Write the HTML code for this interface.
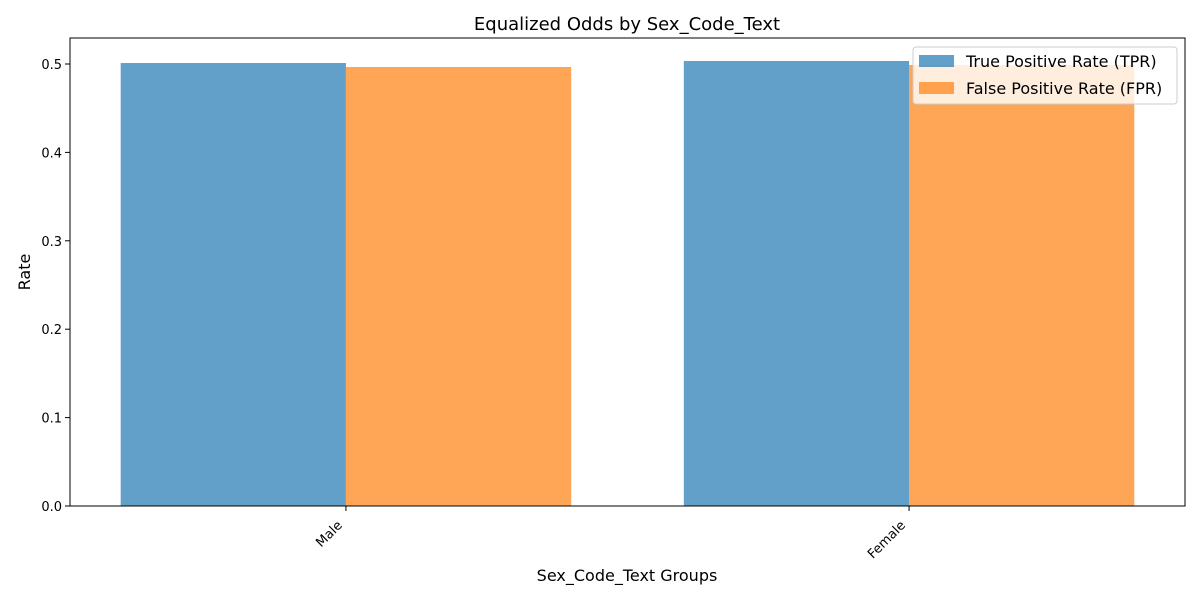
<!DOCTYPE html>
<html><head><meta charset="utf-8"><style>
body{margin:0;background:#fff;font-family:"Liberation Sans","DejaVu Sans",sans-serif}
</style></head><body>
<svg width="1200" height="600" xmlns="http://www.w3.org/2000/svg" font-family="DejaVu Sans, Liberation Sans, sans-serif">
<g id="bars"></g>
<g id="axes"></g>
<text x="627" y="30" font-size="18" text-anchor="middle">Equalized Odds by Sex_Code_Text</text>
<text x="627" y="581" font-size="16" text-anchor="middle">Sex_Code_Text Groups</text>
<text transform="translate(30,272) rotate(-90)" font-size="16" text-anchor="middle">Rate</text>
<g>
<rect x="913" y="47" width="264" height="57" rx="3" fill="#fff" fill-opacity="0.8" stroke="#ccc"/>
<rect x="919" y="55" width="35" height="12" fill="#1f77b4" fill-opacity="0.7"/>
<text x="966" y="67" font-size="16">True Positive Rate (TPR)</text>
<rect x="919" y="82" width="35" height="12" fill="#ff7f0e" fill-opacity="0.7"/>
<text x="966" y="94" font-size="16">False Positive Rate (FPR)</text>
</g>
</svg>
<script>
const categories = ["Male", "Female"];
const tprValues = [0.5011, 0.5034];
const fprValues = [0.4966, 0.4989];
const yTicks = [0.0, 0.1, 0.2, 0.3, 0.4, 0.5];
const NS = "http://www.w3.org/2000/svg";
const L=70,R=1185,T=38,B=506, X0=-0.49,X1=1.49, Y1=0.5294;
const xs=v=>L+(v-X0)/(X1-X0)*(R-L);
const ys=v=>B-v/Y1*(B-T);
const bars=document.getElementById('bars'), axes=document.getElementById('axes');
function mk(tag,attrs,parent){const e=document.createElementNS(NS,tag);for(const k in attrs)e.setAttribute(k,attrs[k]);parent.appendChild(e);return e;}
categories.forEach((c,i)=>{
  const a=mk('rect',{x:xs(i-0.4),y:ys(tprValues[i]),width:xs(i)-xs(i-0.4),height:B-ys(tprValues[i]),fill:'#1f77b4','fill-opacity':0.7},bars);
  
  
  const b=mk('rect',{x:xs(i),y:ys(fprValues[i]),width:xs(i+0.4)-xs(i),height:B-ys(fprValues[i]),fill:'#ff7f0e','fill-opacity':0.7},bars);
  
  
  const x=xs(i);
  mk('line',{x1:x,x2:x,y1:B,y2:B+5,stroke:'#000'},axes);
  const t=mk('text',{transform:`translate(${x-3},${B+20}) rotate(-45)`,'font-size':13,'text-anchor':'end'},axes);
  t.textContent=c;
  
  
});
yTicks.forEach(v=>{
  const y=ys(v);
  mk('line',{x1:L-5,x2:L,y1:y,y2:y,stroke:'#000'},axes);
  const t=mk('text',{x:L-8,y:y+5,'font-size':13,'text-anchor':'end'},axes);
  t.textContent=v.toFixed(1);
  
  
});
const f=mk('rect',{x:L,y:T,width:R-L,height:B-T,fill:'none',stroke:'#000'},axes);


</script>
</body></html>
